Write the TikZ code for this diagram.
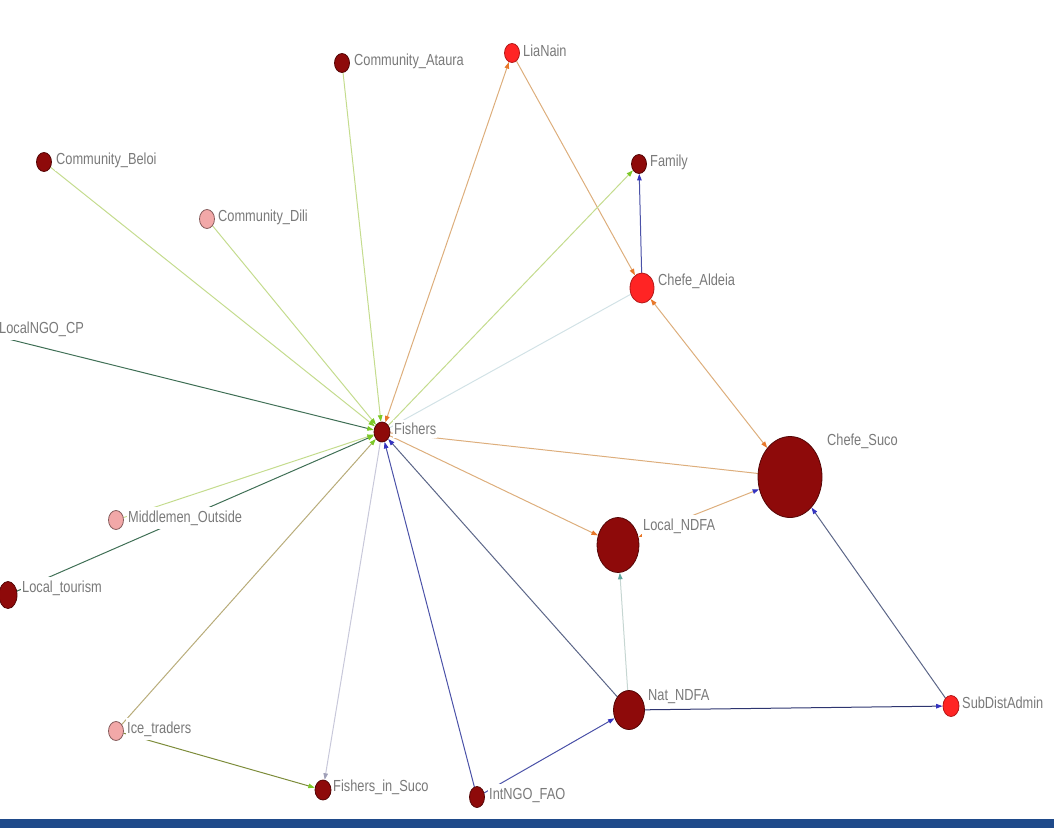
\documentclass[tikz,border=0pt]{standalone}
\usepackage{fontspec}
\newfontfamily\netfont[FakeStretch=0.8]{Liberation Sans}
\usepackage{xcolor}
\usetikzlibrary{arrows.meta,shapes.geometric,backgrounds}
\definecolor{ActorDark}{HTML}{8E0A0A}
\definecolor{ActorRed}{HTML}{FF2424}
\definecolor{ActorPink}{HTML}{F2A8A8}
\definecolor{EdgeLime}{HTML}{C4DC8E}
\definecolor{EdgeForest}{HTML}{3F6F55}
\definecolor{EdgeTan}{HTML}{DDAE7C}
\definecolor{EdgeOlive}{HTML}{B8AC7A}
\definecolor{EdgeMoss}{HTML}{7D8C3A}
\definecolor{EdgeBlue}{HTML}{4B52A8}
\definecolor{EdgeSlate}{HTML}{5C6688}
\definecolor{EdgeNavy}{HTML}{2E3570}
\definecolor{EdgePale}{HTML}{D2E2E6}
\definecolor{EdgeMist}{HTML}{C6D6D2}
\definecolor{EdgeLilac}{HTML}{C8C8DA}
\definecolor{TipGreen}{HTML}{7CC828}
\definecolor{TipOrange}{HTML}{E8782A}
\definecolor{TipBlue}{HTML}{3434C0}
\definecolor{TipTeal}{HTML}{5FA8A0}
\definecolor{TipLilac}{HTML}{A0A0B8}
\definecolor{LabelGrey}{HTML}{7A7A7A}
\definecolor{BarBlue}{HTML}{1F4A8A}
\tikzset{
  tie/.style={line width=1pt, line cap=round},
  headto/.style={arrows={-Triangle[length=6.5pt,width=4.5pt,color=#1]}},
  headboth/.style 2 args={arrows={Triangle[length=6.5pt,width=4.5pt,color=#1]-Triangle[length=6.5pt,width=4.5pt,color=#2]}}
}

\begin{document}
\begin{tikzpicture}[
  x=1pt, y=-1pt,
  actor/.style={ellipse, draw, line width=0.8pt, inner sep=0pt, minimum width=15pt, minimum height=19pt},
  dark/.style={actor, fill=ActorDark, draw=ActorDark!60!black},
  bright/.style={actor, fill=ActorRed, draw=ActorRed!70!black},
  pale/.style={actor, fill=ActorPink, draw=ActorPink!55!black},
  actorlabel/.style={anchor=west, fill=white, inner xsep=1pt, inner ysep=3.5pt, text=LabelGrey, font=\netfont\fontsize{16}{18}\selectfont}
]
\useasboundingbox (0,0) rectangle (1054,828);

% actors
\node[dark] (ataura) at (342,63) {};
\node[bright] (lianain) at (512,53) {};
\node[dark] (beloi) at (44,162) {};
\node[pale] (dili) at (207,219) {};
\node[dark] (family) at (639,164) {};
\node[bright, minimum width=24pt, minimum height=30pt] (aldeia) at (642,288) {};
\node[dark] (ngocp) at (-12,334) {};
\node[dark, minimum width=16pt, minimum height=20pt] (fishers) at (382,432) {};
\node[dark, minimum width=64pt, minimum height=81pt] (suco) at (790,477) {};
\node[pale] (middlemen) at (116,520) {};
\node[dark, minimum width=42pt, minimum height=55pt] (localndfa) at (618,545) {};
\node[dark, minimum width=18pt, minimum height=27pt] (tourism) at (8,595) {};
\node[pale] (icetraders) at (116,731) {};
\node[dark, minimum width=31pt, minimum height=39pt] (natndfa) at (629,710) {};
\node[bright, minimum width=16pt, minimum height=21pt] (subdist) at (951,706) {};
\node[dark, minimum width=16pt, minimum height=20pt] (insuco) at (323,790) {};
\node[dark, minimum width=15pt, minimum height=21pt] (fao) at (477,797) {};

% names
\node[actorlabel] (tAtaura) at (353,61) {Community\_Ataura};
\node[actorlabel] (tLiaNain) at (522,51) {LiaNain};
\node[actorlabel] (tBeloi) at (55,160) {Community\_Beloi};
\node[actorlabel] (tDili) at (217,217) {Community\_Dili};
\node[actorlabel] (tFamily) at (649,162) {Family};
\node[actorlabel] (tAldeia) at (657,281) {Chefe\_Aldeia};
\node[actorlabel] (tNgoCP) at (-2,329) {LocalNGO\_CP};
\node[actorlabel] (tFishers) at (393,429) {Fishers};
\node[actorlabel] (tSuco) at (826,441) {Chefe\_Suco};
\node[actorlabel] (tMiddlemen) at (127,518) {Middlemen\_Outside};
\node[actorlabel] (tLocalNDFA) at (642,526) {Local\_NDFA};
\node[actorlabel] (tTourism) at (21,588) {Local\_tourism};
\node[actorlabel] (tIce) at (126,729) {Ice\_traders};
\node[actorlabel] (tNatNDFA) at (647,697) {Nat\_NDFA};
\node[actorlabel] (tSubDist) at (961,703) {SubDistAdmin};
\node[actorlabel] (tInSuco) at (332,787) {Fishers\_in\_Suco};
\node[actorlabel] (tFAO) at (488,795) {IntNGO\_FAO};

% ties
\begin{pgfonlayer}{background}
\draw[tie, draw=EdgeLime, headto=TipGreen] (ataura) -- (fishers);
\draw[tie, draw=EdgeLime, headto=TipGreen] (beloi) -- (fishers);
\draw[tie, draw=EdgeLime, headto=TipGreen] (dili) -- (fishers);
\draw[tie, draw=EdgeForest, headto=TipGreen] (ngocp) -- (fishers);
\draw[tie, draw=EdgeLime, headto=TipGreen] (middlemen) -- (fishers);
\draw[tie, draw=EdgeForest, headto=TipGreen] (tourism) -- (fishers);
\draw[tie, draw=EdgeOlive, headto=TipGreen] (icetraders) -- (fishers);
\draw[tie, draw=EdgeMoss, headto=TipGreen] (icetraders) -- (insuco);
\draw[tie, draw=EdgeLilac, headto=TipLilac] (fishers) -- (insuco);
\draw[tie, draw=EdgeTan, headboth={TipOrange}{TipOrange}] (fishers) -- (lianain);
\draw[tie, draw=EdgeTan, headto=TipOrange] (lianain) -- (aldeia);
\draw[tie, draw=EdgeLime, headto=TipGreen] (fishers) -- (family);
\draw[tie, draw=EdgeBlue, headto=TipBlue] (aldeia) -- (family);
\draw[tie, draw=EdgePale] (fishers) -- (aldeia);
\draw[tie, draw=EdgeTan, headboth={TipOrange}{TipOrange}] (aldeia) -- (suco);
\draw[tie, draw=EdgeTan] (fishers) -- (suco);
\draw[tie, draw=EdgeTan, headto=TipOrange] (fishers) -- (localndfa);
\draw[tie, draw=EdgeTan, headboth={TipOrange}{TipBlue}] (localndfa) -- (suco);
\draw[tie, draw=EdgeMist, headto=TipTeal] (natndfa) -- (localndfa);
\draw[tie, draw=EdgeSlate, headto=TipBlue] (natndfa) -- (fishers);
\draw[tie, draw=EdgeBlue, headto=TipBlue] (fao) -- (fishers);
\draw[tie, draw=EdgeBlue, headto=TipBlue] (fao) -- (natndfa);
\draw[tie, draw=EdgeNavy, headto=TipBlue] (natndfa) -- (subdist);
\draw[tie, draw=EdgeSlate, headto=TipBlue] (subdist) -- (suco);
\end{pgfonlayer}

% bottom bar
\fill[BarBlue] (0,819) rectangle (1054,828);
\end{tikzpicture}
\end{document}
